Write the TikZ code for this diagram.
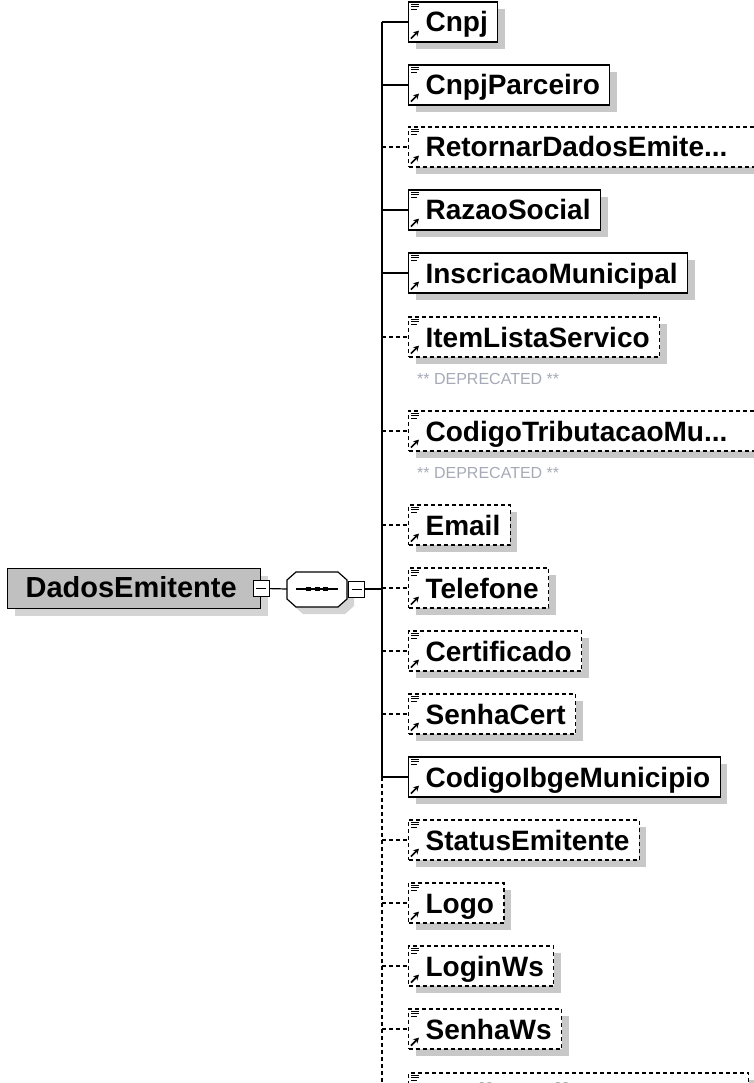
\documentclass[tikz,border=0pt]{standalone}
\usepackage{fontspec}
\setmainfont{Liberation Sans}
\usetikzlibrary{arrows.meta,shadows}

\definecolor{shade}{RGB}{200,200,200}
\definecolor{rootfill}{RGB}{192,192,192}
\definecolor{rootshade}{RGB}{212,212,212}
\definecolor{depgray}{RGB}{165,170,182}

\newcommand{\elemfont}{\fontsize{28}{30}\selectfont\bfseries}
\newcommand{\rootfont}{\fontsize{29}{31}\selectfont\bfseries}
\newcommand{\depfont}{\fontsize{16}{18}\selectfont}

\tikzset{
	elem/.style={draw, fill=white, line width=1.2pt, anchor=west, inner xsep=0pt, inner ysep=0pt,
		text height=30pt, text depth=10pt, font=\elemfont,
		execute at begin node=\hspace*{17pt}, execute at end node=\hspace*{10pt},
		drop shadow={shadow xshift=7pt, shadow yshift=-7pt, fill=shade, opacity=1}},
	optelem/.style={elem, dash pattern=on 4pt off 3pt},
	trunc/.style={execute at end node=\hspace*{20pt}},
	rootbox/.style={draw, fill=rootfill, line width=1.2pt, anchor=north west, inner xsep=0pt, inner ysep=0pt,
		text width=253pt, align=left, text height=29pt, text depth=11pt, font=\rootfont,
		execute at begin node=\hspace*{18pt},
		drop shadow={shadow xshift=7pt, shadow yshift=-7pt, fill=rootshade, opacity=1}},
	minbox/.style={draw, fill=white, line width=1pt, minimum size=16pt, inner sep=0pt,
		path picture={\draw[line width=1pt] ([xshift=3pt]path picture bounding box.west) -- ([xshift=-3pt]path picture bounding box.east);}},
	conn/.style={line width=1.2pt},
	optconn/.style={conn, dash pattern=on 4pt off 3pt},
	icon/.style={line width=1pt},
	deprec/.style={anchor=west, inner sep=0pt, font=\depfont, text=depgray}
}

\begin{document}
\begin{tikzpicture}[x=1pt, y=-1pt]
	\useasboundingbox (0,0) rectangle (753,1083);

	\node[rootbox] (root) at (7,568) {DadosEmitente};
	\node[minbox] (rootminus) at (root.east) {};

	\fill[rootshade, shift={(7,7)}] (287,580) -- (296,572) -- (338,572) -- (347,580) -- (347,599) -- (338,607) -- (296,607) -- (287,599) -- cycle;
	\filldraw[fill=white, line width=1.2pt] (287,580) -- (296,572) -- (338,572) -- (347,580) -- (347,599) -- (338,607) -- (296,607) -- (287,599) -- cycle;
	\draw[line width=1.2pt] (296,589) -- (338,589);
		\fill (306,587) rectangle (311,591);
		\fill (314.5,587) rectangle (319.5,591);
		\fill (323,587) rectangle (328,591);
	\coordinate (seqW) at (287,589);
	\node[minbox] (seqminus) at (356.5,589) {};
	\coordinate (spine) at (382,0);

	\draw[conn] (rootminus.east) -- (seqW);
	\draw[conn] (seqminus.east) -- (seqminus.east -| spine);

	\node[elem] (cnpj) at (408,22) {Cnpj};
	\node[elem] (parceiro) at (408,85) {CnpjParceiro};
	\node[optelem, trunc] (retornar) at (408,147) {RetornarDadosEmite...};
	\node[elem] (razao) at (408,210) {RazaoSocial};
	\node[elem] (inscricao) at (408,273) {InscricaoMunicipal};
	\node[optelem] (itemlista) at (408,337) {ItemListaServico};
		\node[deprec] (depitem) at (417,379) {** DEPRECATED **};
	\node[optelem, trunc] (codtrib) at (408,431) {CodigoTributacaoMu...};
		\node[deprec] (depcod) at (417,473) {** DEPRECATED **};
	\node[optelem] (email) at (408,525) {Email};
	\node[optelem] (telefone) at (408,588) {Telefone};
	\node[optelem] (certificado) at (408,651) {Certificado};
	\node[optelem] (senhacert) at (408,714) {SenhaCert};
	\node[elem] (ibge) at (408,777) {CodigoIbgeMunicipio};
	\node[optelem] (status) at (408,840) {StatusEmitente};
	\node[optelem] (logo) at (408,903) {Logo};
	\node[optelem] (loginws) at (408,966) {LoginWs};
	\node[optelem] (senhaws) at (408,1029) {SenhaWs};
	\node[optelem, minimum width=340pt] (ultimo) at (408,1093) {CodigoTributacaoMu...};

	\draw[conn] (cnpj.west -| spine) -- (ibge.west -| spine);
	\draw[optconn] (ibge.west -| spine) -- (ultimo.west -| spine);
	\foreach \n in {cnpj,parceiro,razao,inscricao,ibge}
		\draw[conn] (\n.west -| spine) -- (\n.west);
	\foreach \n in {retornar,itemlista,codtrib,email,telefone,certificado,senhacert,status,logo,loginws,senhaws,ultimo}
		\draw[optconn] (\n.west -| spine) -- (\n.west);

	\foreach \n in {cnpj,parceiro,retornar,razao,inscricao,itemlista,codtrib,email,telefone,certificado,senhacert,ibge,status,logo,loginws,senhaws,ultimo}{
		\draw[icon] ([xshift=3pt,yshift=-3pt]\n.north west) -- ++(8,0);
		\draw[icon] ([xshift=3pt,yshift=-5.5pt]\n.north west) -- ++(8,0);
		\draw[icon] ([xshift=3pt,yshift=-8pt]\n.north west) -- ++(6,0);
		\draw[line width=1.6pt, -{Stealth[length=5.5pt,width=6pt]}] ([xshift=3pt,yshift=4pt]\n.south west) -- ++(8,-8);
	}
\end{tikzpicture}
\end{document}
